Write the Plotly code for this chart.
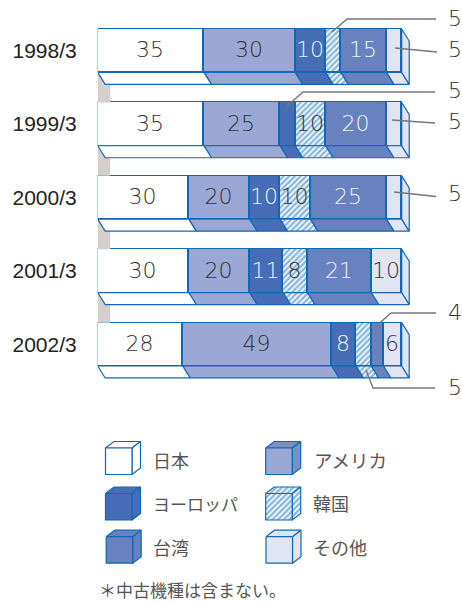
import plotly.graph_objects as go

# ── Datos ───────────────────────────────────────────────────────
years = ["1998/3", "1999/3", "2000/3", "2001/3", "2002/3"]
japan = [35, 35, 30, 30, 28]
america = [30, 25, 20, 20, 49]
europe = [10, 5, 10, 11, 8]
korea = [5, 10, 10, 8, 5]
taiwan = [15, 20, 25, 21, 4]
other = [5, 5, 5, 10, 6]

names = ["日本", "アメリカ", "ヨーロッパ", "韓国", "台湾", "その他"]
series = [japan, america, europe, korea, taiwan, other]

# ── Constantes visuales ─────────────────────────────────────────
W, H = 462, 603
LINE = "#1168b4"
HATCH = "#0f6fc0"
FILLS = ["#ffffff", "#9ba8d5", "#466db5", "#ffffff", "#6882c0", "#e1e4f3"]
TEXT_COLORS = ["#333333", "#333333", "#eef1fa", "#333333", "#eef1fa", "#333333"]
NUM_FONT = "DejaVu Sans ExtraLight, DejaVu Sans Light, Lato, sans-serif"
JP_FONT = "Noto Sans CJK JP"

X0_PX, PX_PER_UNIT = 97.7, 3.04
ROW0_PX, ROW_PX = 50.7, 73.4
BAR_PX = 43.3
DX, DY = 7.5, 12   # profundidad del bloque, en px

ux = lambda px: px / PX_PER_UNIT
uy = lambda px: px / ROW_PX


def pattern(i):
    if i != 3:
        return None
    return dict(shape="/", fgcolor=HATCH, bgcolor="#ffffff", size=4, solidity=0.6)


fig = go.Figure()

# Conectores grises entre filas
half = uy(BAR_PX) / 2
cx, cy = [], []
for r in range(len(years) - 1):
    cx += [0, ux(12.5), ux(12.5), 0, 0, None]
    cy += [r + half, r + half, r + 1 - half, r + 1 - half, r + half, None]
fig.add_trace(go.Scatter(x=cx, y=cy, fill="toself", fillcolor="#d2cfcd", mode="none",
                         hoverinfo="skip", showlegend=False))

# Caras frontales
for i, (name, vals) in enumerate(zip(names, series)):
    marker = dict(color=FILLS[i], line=dict(color=LINE, width=1.3))
    if pattern(i):
        marker["pattern"] = pattern(i)
    fig.add_trace(go.Bar(
        y=list(range(len(years))), x=vals, name=name, orientation="h",
        width=uy(BAR_PX), marker=marker,
        text=[str(v) if v > 5 else "" for v in vals],
        textposition="inside", insidetextanchor="middle", textangle=0,
        constraintext="none",
        textfont=dict(family=NUM_FONT, size=22, color=TEXT_COLORS[i]),
        hovertemplate="%{y}: %{x}<extra>" + name + "</extra>",
        showlegend=False,
    ))

# Caras inferiores, calculadas a partir de los valores acumulados
starts = [0] * len(years)
for i, vals in enumerate(series):
    xs, ys = [], []
    for r, v in enumerate(vals):
        a, b = starts[r], starts[r] + v
        bot = r + half
        xs += [a, b, b + ux(DX), a + ux(DX), a, None]
        ys += [bot, bot, bot + uy(DY), bot + uy(DY), bot, None]
        starts[r] = b
    kw = dict(fillpattern=pattern(i)) if pattern(i) else {}
    fig.add_trace(go.Scatter(x=xs, y=ys, fill="toself", fillcolor=FILLS[i], mode="lines",
                             line=dict(color=LINE, width=1.2), hoverinfo="skip",
                             showlegend=False, **kw))

# Cara lateral derecha
xs, ys = [], []
for r, end in enumerate(starts):
    xs += [end, end + ux(DX), end + ux(DX), end, end, None]
    ys += [r - half, r - half + uy(DY), r + half + uy(DY), r + half, r - half, None]
fig.add_trace(go.Scatter(x=xs, y=ys, fill="toself", fillcolor=FILLS[5], mode="lines",
                         line=dict(color=LINE, width=1.2), hoverinfo="skip", showlegend=False))

# Líneas guía y valores exteriores (ejes x2/y2 en píxeles)
leaders = [
    ([332, 347, 436], [32, 19, 19], 20, korea[0]),
    ([395, 437], [48, 52], 51, other[0]),
    ([287, 303, 435], [106, 92, 92], 92, europe[1]),
    ([392, 435], [120, 123], 123, other[1]),
    ([394, 436], [192, 196.5], 195, other[2]),
    ([375, 391, 436], [327, 313, 313], 314, taiwan[4]),
    ([366, 373, 435], [370, 388, 388], 389, korea[4]),
]
for lx, ly, ty, val in leaders:
    fig.add_trace(go.Scatter(x=lx, y=ly, xaxis="x2", yaxis="y2", mode="lines",
                             line=dict(color="#777777", width=1.4), hoverinfo="skip",
                             showlegend=False))
    fig.add_trace(go.Scatter(x=[455], y=[ty], xaxis="x2", yaxis="y2", mode="text",
                             text=[str(val)], hoverinfo="skip", showlegend=False,
                             textfont=dict(family=NUM_FONT, size=22, color="#333333")))

# ── Leyenda ─────────────────────────────────────────────────────
CUBE = 26.5
legend_items = [
    (0, 105.5, 448, 153, 463.5, 18),
    (1, 265.7, 448, 314, 463.5, 18.5),
    (2, 105.5, 493.5, 153, 507, 17),
    (3, 265.7, 493.5, 313, 506.5, 18),
    (4, 106.2, 536.7, 153, 550.5, 18),
    (5, 266, 536.7, 313, 550.5, 18),
]
for i, x, y, tx, ty, fs in legend_items:
    d, e = 8.5, 6.5
    dark = {1: "#7a8fca"}.get(i, FILLS[i])
    faces = [
        ([x, x + d, x + CUBE + d, x + CUBE, x], [y, y - e, y - e, y, y], dark),
        ([x + CUBE, x + CUBE + d, x + CUBE + d, x + CUBE, x + CUBE],
         [y, y - e, y + CUBE - e, y + CUBE, y], dark if i == 1 else FILLS[i]),
        ([x, x + CUBE, x + CUBE, x, x], [y, y, y + CUBE, y + CUBE, y], FILLS[i]),
    ]
    for fx, fy, fc in faces:
        kw = dict(fillpattern=pattern(i)) if pattern(i) else {}
        fig.add_trace(go.Scatter(x=fx, y=fy, xaxis="x2", yaxis="y2", fill="toself",
                                 fillcolor=fc, mode="lines", hoverinfo="skip",
                                 line=dict(color=LINE, width=1.2), showlegend=False, **kw))
    fig.add_trace(go.Scatter(x=[tx], y=[ty], xaxis="x2", yaxis="y2", mode="text",
                             text=[names[i]], textposition="middle right", hoverinfo="skip",
                             showlegend=False,
                             textfont=dict(family=JP_FONT, size=fs, color="#555555")))

fig.add_trace(go.Scatter(x=[99], y=[593], xaxis="x2", yaxis="y2", mode="text",
                         text=["＊中古機種は含まない。"], textposition="middle right",
                         hoverinfo="skip", showlegend=False,
                         textfont=dict(family=JP_FONT, size=17, color="#555555")))

fig.update_layout(
    width=W, height=H, barmode="stack", bargap=0,
    paper_bgcolor="#ffffff", plot_bgcolor="rgba(0,0,0,0)",
    margin=dict(t=0, b=0, l=0, r=0),
    xaxis=dict(domain=[X0_PX / W, 1], range=[0, ux(W - X0_PX)], visible=False, fixedrange=True),
    yaxis=dict(
        domain=[0, 1], range=[uy(H - ROW0_PX), uy(-ROW0_PX)], anchor="x",
        tickmode="array", tickvals=list(range(len(years))), ticktext=years,
        showgrid=False, zeroline=False, showline=False, ticks="", ticklabelstandoff=20,
        tickfont=dict(family="Liberation Sans, Arial, sans-serif", size=21, color="#222222"),
        fixedrange=True,
    ),
    xaxis2=dict(domain=[0, 1], range=[0, W], visible=False, anchor="y2", fixedrange=True),
    yaxis2=dict(domain=[0, 1], range=[H, 0], visible=False, anchor="x2", fixedrange=True),
)

# La página trae 8px de margen por defecto en body
fig.write_html("out.html", config=dict(displayModeBar=False),
               post_script="document.body.style.margin='0';document.body.style.overflow='hidden';")
